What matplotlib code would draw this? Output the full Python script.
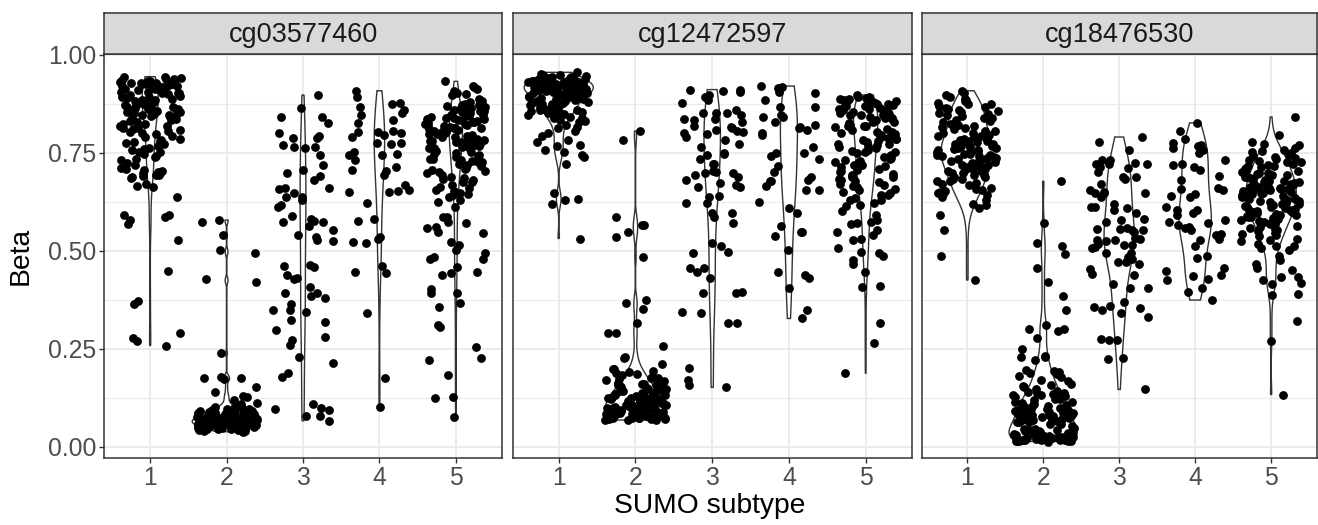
import numpy as np
import matplotlib
matplotlib.use('Agg')
import matplotlib.pyplot as plt

plt.rcParams['font.family'] = ['Liberation Sans', 'DejaVu Sans']

probes = ['cg03577460', 'cg12472597', 'cg18476530']
subtypes = [1, 2, 3, 4, 5]
y_ticks = [0.0, 0.25, 0.5, 0.75, 1.0]
y_tick_labels = ['0.00', '0.25', '0.50', '0.75', '1.00']

# ---- cg03577460, beta values per SUMO subtype ----
cg03577460_1 = [
    0.931, 0.918, 0.942, 0.905, 0.927, 0.899, 0.923, 0.936, 0.912, 0.939, 0.921, 0.903, 0.934, 0.915, 0.926,
    0.944, 0.908, 0.929, 0.913, 0.924, 0.937, 0.901, 0.917, 0.941, 0.920, 0.932, 0.910, 0.906, 0.925, 0.933,
    0.914, 0.922, 0.902, 0.928, 0.911,
    0.893, 0.874, 0.885, 0.862, 0.896, 0.853, 0.881, 0.869, 0.858, 0.891, 0.878, 0.851, 0.872, 0.887, 0.864,
    0.883, 0.867, 0.855, 0.894, 0.861, 0.879, 0.871, 0.857, 0.848, 0.889, 0.876, 0.866, 0.859, 0.884, 0.852,
    0.843, 0.824, 0.836, 0.812, 0.847, 0.803, 0.831, 0.819, 0.808, 0.841, 0.828, 0.801, 0.822, 0.845, 0.814,
    0.833, 0.817, 0.806, 0.839, 0.811,
    0.792, 0.774, 0.785, 0.763, 0.797, 0.752, 0.781, 0.768, 0.757, 0.789, 0.778, 0.751, 0.771, 0.759, 0.783,
    0.742, 0.723, 0.734, 0.712, 0.746, 0.705, 0.731, 0.718, 0.709, 0.738,
    0.697, 0.691, 0.702, 0.694, 0.688, 0.699, 0.686, 0.693,
    0.700, 0.665, 0.663, 0.669, 0.636, 0.590, 0.592, 0.578, 0.567, 0.585, 0.527, 0.448, 0.364, 0.372, 0.289,
    0.270, 0.276, 0.258]
cg03577460_2 = [
    0.578, 0.574, 0.539, 0.501, 0.493, 0.427, 0.421, 0.238, 0.172, 0.174, 0.178, 0.140, 0.127, 0.153, 0.174,
    0.052, 0.071, 0.063, 0.084, 0.041, 0.093, 0.058, 0.076, 0.047, 0.102, 0.061, 0.087, 0.069, 0.054, 0.066,
    0.091, 0.073, 0.044, 0.082, 0.059, 0.074, 0.051, 0.108, 0.064, 0.079, 0.068, 0.049, 0.096, 0.057, 0.072,
    0.038, 0.086, 0.062, 0.053, 0.099, 0.077, 0.065, 0.081, 0.046, 0.070, 0.060, 0.089, 0.055, 0.075, 0.083,
    0.043, 0.067, 0.078, 0.050, 0.118, 0.063, 0.085, 0.072, 0.048, 0.058, 0.094, 0.069, 0.040, 0.061, 0.080,
    0.056, 0.074, 0.064, 0.104, 0.052, 0.088, 0.071, 0.059, 0.045, 0.092, 0.066, 0.077, 0.049, 0.083, 0.062,
    0.070, 0.054, 0.112, 0.057, 0.086, 0.073, 0.047, 0.065, 0.097, 0.042, 0.076, 0.060, 0.081, 0.053, 0.068,
    0.128, 0.063, 0.051, 0.084, 0.072, 0.058, 0.039, 0.090, 0.075, 0.050, 0.067, 0.079, 0.055, 0.071, 0.101,
    0.061, 0.048, 0.087, 0.074, 0.044, 0.064, 0.095, 0.056, 0.069, 0.059]
cg03577460_3 = [
    0.897, 0.865, 0.841, 0.792, 0.788, 0.763, 0.765, 0.744, 0.718, 0.705, 0.690, 0.680, 0.659, 0.646, 0.657,
    0.629, 0.637, 0.612, 0.588, 0.574, 0.582, 0.535, 0.540, 0.527, 0.459, 0.438, 0.429, 0.461, 0.408, 0.384,
    0.348, 0.344, 0.228, 0.093, 0.095, 0.077,
    0.841, 0.801, 0.765, 0.826, 0.788, 0.769, 0.697, 0.659, 0.637, 0.616, 0.575, 0.573, 0.562, 0.552, 0.524,
    0.463, 0.378, 0.393, 0.391, 0.365, 0.348, 0.427, 0.323, 0.319, 0.297, 0.280, 0.259, 0.272, 0.214, 0.189,
    0.178, 0.109, 0.098, 0.077, 0.066]
cg03577460_4 = [
    0.908, 0.877, 0.867, 0.891, 0.875, 0.858, 0.833, 0.826, 0.845, 0.851, 0.803, 0.790, 0.795, 0.806, 0.803,
    0.800, 0.775, 0.775, 0.773, 0.744, 0.744, 0.752, 0.746, 0.731, 0.705, 0.704, 0.714, 0.693, 0.656, 0.650,
    0.650, 0.667, 0.653, 0.622, 0.582, 0.575, 0.535, 0.529, 0.523, 0.520, 0.446, 0.461, 0.444, 0.340, 0.174,
    0.100]
cg03577460_5 = [
    0.612, 0.548, 0.514, 0.501, 0.480, 0.438, 0.401, 0.393, 0.367, 0.306, 0.459, 0.442, 0.480, 0.391, 0.446,
    0.357, 0.310, 0.253, 0.221, 0.225, 0.183, 0.127, 0.125, 0.075, 0.523, 0.493, 0.485, 0.544, 0.586, 0.574,
    0.557, 0.585, 0.561, 0.571,
    0.921, 0.903, 0.887, 0.912, 0.896, 0.874, 0.908, 0.882, 0.866, 0.899, 0.856, 0.871, 0.845, 0.862, 0.838,
    0.879, 0.851, 0.868, 0.833, 0.859, 0.847, 0.826, 0.864, 0.841, 0.818, 0.853, 0.829, 0.872, 0.836, 0.811,
    0.843, 0.822, 0.857, 0.815, 0.834, 0.806, 0.849, 0.824, 0.801, 0.839, 0.817, 0.796, 0.831, 0.808, 0.785,
    0.827, 0.799, 0.814, 0.791, 0.821, 0.788, 0.803, 0.776, 0.812, 0.783, 0.797, 0.769, 0.805, 0.779, 0.792,
    0.772, 0.786, 0.761, 0.798, 0.774, 0.756, 0.781, 0.765, 0.752, 0.777, 0.744, 0.767, 0.738, 0.759, 0.731,
    0.763, 0.747, 0.726, 0.754, 0.735, 0.719, 0.742, 0.712, 0.733, 0.705, 0.728, 0.697, 0.716, 0.689, 0.722,
    0.684, 0.708, 0.676, 0.701, 0.668, 0.693, 0.659, 0.681, 0.652, 0.674, 0.645, 0.663, 0.638, 0.656, 0.629,
    0.648, 0.624, 0.641, 0.932, 0.917, 0.884, 0.861, 0.837, 0.813, 0.789, 0.766, 0.749, 0.727, 0.702, 0.686]

# ---- cg12472597 ----
cg12472597_1 = [
    0.952, 0.938, 0.921, 0.944, 0.907, 0.931, 0.915, 0.948, 0.926, 0.903, 0.936, 0.918, 0.941, 0.899, 0.929,
    0.912, 0.946, 0.923, 0.905, 0.934, 0.917, 0.939, 0.896, 0.927, 0.909, 0.943, 0.920, 0.901, 0.932, 0.914,
    0.937, 0.893, 0.924, 0.906, 0.949, 0.919, 0.898, 0.930, 0.911, 0.935, 0.890, 0.922, 0.904, 0.942, 0.916,
    0.895, 0.928, 0.908, 0.933, 0.887, 0.925, 0.902, 0.940, 0.913, 0.892, 0.926, 0.906, 0.931, 0.884, 0.919,
    0.897, 0.936, 0.910, 0.889, 0.923, 0.903, 0.928, 0.881, 0.915, 0.894, 0.874, 0.866, 0.879, 0.858, 0.871,
    0.853, 0.876, 0.862, 0.848, 0.869, 0.856, 0.873, 0.845, 0.864, 0.838, 0.877, 0.851, 0.867, 0.842, 0.859,
    0.834, 0.854, 0.828, 0.847, 0.821, 0.861, 0.839, 0.831, 0.882, 0.886, 0.955, 0.911, 0.899, 0.918, 0.904,
    0.722, 0.792, 0.767, 0.799, 0.816, 0.744, 0.752, 0.739, 0.769, 0.648, 0.629, 0.620, 0.633, 0.531, 0.812,
    0.805, 0.783, 0.776, 0.758]
cg12472597_2 = [
    0.805, 0.782, 0.565, 0.566, 0.586, 0.548, 0.534, 0.484, 0.374, 0.367, 0.350, 0.316, 0.289, 0.290, 0.258,
    0.228, 0.225, 0.212, 0.198,
    0.069, 0.083, 0.072, 0.091, 0.077, 0.095, 0.071, 0.086, 0.098, 0.074, 0.089, 0.080, 0.068, 0.093, 0.076,
    0.085, 0.099, 0.073, 0.088, 0.079, 0.070, 0.094, 0.082, 0.097, 0.075, 0.087, 0.071, 0.090, 0.078, 0.084,
    0.096, 0.069, 0.081, 0.092, 0.074, 0.087, 0.099, 0.076, 0.083, 0.072,
    0.104, 0.118, 0.109, 0.126, 0.101, 0.114, 0.122, 0.107, 0.129, 0.111, 0.103, 0.119, 0.125, 0.106, 0.116,
    0.102, 0.121, 0.112, 0.128, 0.108, 0.115, 0.124, 0.100, 0.117, 0.110, 0.127, 0.105, 0.120, 0.113, 0.123,
    0.134, 0.151, 0.141, 0.158, 0.137, 0.146, 0.131, 0.155, 0.143, 0.139, 0.152, 0.133, 0.148, 0.157, 0.136,
    0.144, 0.132, 0.159, 0.140, 0.149, 0.135, 0.153,
    0.166, 0.183, 0.172, 0.194, 0.168, 0.178, 0.188, 0.163, 0.176, 0.199, 0.170, 0.185, 0.161, 0.191, 0.174]
cg12472597_3 = [
    0.909, 0.908, 0.877, 0.846, 0.837, 0.850, 0.852, 0.829, 0.799, 0.782, 0.803, 0.806, 0.797, 0.809, 0.765,
    0.746, 0.748, 0.733, 0.721, 0.699, 0.697, 0.688, 0.673, 0.663, 0.667, 0.637, 0.639, 0.622, 0.595, 0.571,
    0.520, 0.497, 0.513, 0.455, 0.446, 0.395, 0.391, 0.342, 0.316, 0.157,
    0.906, 0.892, 0.897, 0.911, 0.884, 0.851, 0.858, 0.835, 0.816, 0.818, 0.833, 0.812, 0.790, 0.773, 0.744,
    0.722, 0.693, 0.701, 0.703, 0.680, 0.663, 0.622, 0.595, 0.586, 0.494, 0.429, 0.455, 0.391, 0.344, 0.316,
    0.200, 0.170, 0.151]
cg12472597_4 = [
    0.914, 0.920, 0.917, 0.906, 0.901, 0.884, 0.867, 0.866, 0.841, 0.842, 0.846, 0.829, 0.809, 0.820, 0.816,
    0.795, 0.799, 0.812, 0.765, 0.748, 0.741, 0.750, 0.733, 0.716, 0.701, 0.680, 0.656, 0.654, 0.678, 0.677,
    0.688, 0.665, 0.625, 0.608, 0.595, 0.562, 0.548, 0.547, 0.537, 0.501, 0.446, 0.438, 0.429, 0.404, 0.348,
    0.327]
cg12472597_5 = [
    0.578, 0.616, 0.629, 0.493, 0.466, 0.446, 0.476, 0.410, 0.487, 0.408, 0.316, 0.265, 0.187, 0.527, 0.506,
    0.497, 0.531, 0.548, 0.568, 0.600, 0.574, 0.591, 0.571, 0.552, 0.540, 0.614,
    0.897, 0.884, 0.891, 0.876, 0.888, 0.869, 0.893, 0.872, 0.881, 0.865, 0.886, 0.861, 0.878, 0.854, 0.874,
    0.858, 0.883, 0.849, 0.868, 0.852, 0.879, 0.845, 0.862, 0.838, 0.871, 0.842, 0.857, 0.833, 0.866, 0.847,
    0.829, 0.853, 0.821, 0.844, 0.815, 0.839, 0.826, 0.808, 0.835, 0.818, 0.801, 0.827, 0.794, 0.819, 0.788,
    0.811, 0.782, 0.804, 0.776, 0.797, 0.771, 0.791, 0.764, 0.785, 0.757, 0.779, 0.751, 0.773, 0.745, 0.767,
    0.738, 0.761, 0.732, 0.754, 0.726, 0.748, 0.719, 0.742, 0.713, 0.736, 0.707, 0.729, 0.701, 0.723, 0.694,
    0.716, 0.688, 0.709, 0.681, 0.703, 0.675, 0.696, 0.668, 0.689, 0.662, 0.683, 0.655, 0.677, 0.648, 0.670,
    0.641, 0.664, 0.635, 0.657, 0.628, 0.650, 0.622, 0.643, 0.889, 0.873, 0.859, 0.846, 0.831, 0.817, 0.802,
    0.786, 0.769, 0.752, 0.735, 0.718]

# ---- cg18476530 ----
cg18476530_1 = [
    0.908, 0.896, 0.884, 0.902, 0.877, 0.891, 0.869, 0.886, 0.873, 0.862, 0.881, 0.858, 0.874, 0.851, 0.867,
    0.845, 0.863, 0.839, 0.856, 0.848, 0.834, 0.853, 0.827, 0.844, 0.821, 0.838, 0.816, 0.832, 0.811, 0.826,
    0.805, 0.822, 0.799, 0.817, 0.793, 0.812, 0.788, 0.806, 0.783, 0.801, 0.778, 0.796, 0.772, 0.791, 0.768,
    0.786, 0.763, 0.781, 0.759, 0.776, 0.754, 0.771, 0.749, 0.767, 0.745, 0.762, 0.741, 0.758, 0.736, 0.752,
    0.731, 0.747, 0.727, 0.743, 0.722, 0.738, 0.718, 0.733, 0.713, 0.729, 0.708, 0.724, 0.703, 0.719, 0.698,
    0.714, 0.693, 0.709, 0.688, 0.704, 0.683, 0.699, 0.678, 0.694, 0.672, 0.689, 0.667, 0.684, 0.661, 0.678,
    0.655, 0.671, 0.649, 0.665, 0.642, 0.658, 0.636, 0.651, 0.629, 0.644, 0.792, 0.764, 0.757, 0.746, 0.779,
    0.737, 0.785, 0.725, 0.769, 0.753, 0.742, 0.711,
    0.552, 0.486, 0.425, 0.616, 0.620, 0.646, 0.590, 0.608]
cg18476530_2 = [
    0.677, 0.571, 0.491, 0.511, 0.457, 0.421, 0.520, 0.385, 0.348, 0.310, 0.299, 0.295, 0.301, 0.276, 0.248,
    0.228, 0.231, 0.229, 0.221, 0.196, 0.194, 0.191, 0.170, 0.178, 0.185, 0.189, 0.132, 0.140, 0.134, 0.121,
    0.106, 0.081, 0.076, 0.083, 0.064, 0.085, 0.153, 0.155, 0.123, 0.161,
    0.058, 0.072, 0.095, 0.113, 0.064, 0.087, 0.142, 0.105, 0.068, 0.126, 0.091, 0.077, 0.167, 0.099, 0.083,
    0.118, 0.062, 0.136, 0.108, 0.074, 0.181, 0.093, 0.069, 0.148, 0.115, 0.081, 0.102, 0.066, 0.129, 0.089,
    0.052, 0.078, 0.097, 0.121, 0.059, 0.084, 0.111, 0.138, 0.067, 0.093, 0.158, 0.071, 0.104, 0.086, 0.131,
    0.021, 0.034, 0.017, 0.042, 0.026, 0.015, 0.038, 0.023, 0.048, 0.019, 0.031, 0.016, 0.027, 0.044, 0.020,
    0.036, 0.014, 0.029, 0.022, 0.018, 0.039, 0.025, 0.015, 0.033, 0.046, 0.021, 0.017, 0.028, 0.041, 0.024,
    0.016, 0.035, 0.019, 0.026, 0.014, 0.031, 0.022, 0.043, 0.018, 0.027, 0.015, 0.032, 0.020, 0.024, 0.013,
    0.029, 0.017, 0.023]
cg18476530_3 = [
    0.778, 0.790, 0.731, 0.714, 0.724, 0.722, 0.688, 0.671, 0.646, 0.648, 0.637, 0.612, 0.608, 0.595, 0.578,
    0.582, 0.552, 0.554, 0.548, 0.514, 0.506, 0.527, 0.529, 0.516, 0.510, 0.484, 0.467, 0.472, 0.452, 0.440,
    0.493, 0.404, 0.353, 0.359, 0.272, 0.274, 0.225, 0.340,
    0.722, 0.720, 0.701, 0.684, 0.757, 0.731, 0.710, 0.688, 0.646, 0.650, 0.654, 0.620, 0.603, 0.612, 0.574,
    0.554, 0.557, 0.552, 0.527, 0.533, 0.514, 0.525, 0.472, 0.493, 0.480, 0.438, 0.416, 0.404, 0.370, 0.357,
    0.348, 0.331, 0.272, 0.223, 0.146]
cg18476530_4 = [
    0.826, 0.806, 0.769, 0.767, 0.775, 0.786, 0.763, 0.748, 0.757, 0.722, 0.707, 0.714, 0.731, 0.718, 0.690,
    0.681, 0.657, 0.659, 0.640, 0.654, 0.637, 0.645, 0.590, 0.605, 0.595, 0.612, 0.603, 0.578, 0.561, 0.552,
    0.574, 0.558, 0.565, 0.571, 0.540, 0.527, 0.542, 0.529, 0.511, 0.486, 0.482, 0.455, 0.425, 0.427, 0.449,
    0.438, 0.436, 0.404, 0.395, 0.374]
cg18476530_5 = [
    0.841, 0.795, 0.769, 0.321, 0.270, 0.133, 0.387, 0.389, 0.418, 0.432, 0.433, 0.451, 0.425, 0.416, 0.455,
    0.476, 0.486, 0.467, 0.527, 0.506, 0.501, 0.511, 0.513,
    0.762, 0.748, 0.771, 0.739, 0.755, 0.727, 0.744, 0.718, 0.758, 0.733, 0.711, 0.741, 0.703, 0.729, 0.696,
    0.722, 0.689, 0.736, 0.714, 0.681, 0.707, 0.676, 0.699, 0.669, 0.725, 0.692, 0.663, 0.686, 0.657, 0.701,
    0.673, 0.648, 0.679, 0.652, 0.694, 0.661, 0.642, 0.671, 0.637, 0.684, 0.655, 0.631, 0.666, 0.626, 0.649,
    0.619, 0.677, 0.641, 0.614, 0.658, 0.633, 0.608, 0.645, 0.602, 0.627, 0.596, 0.654, 0.621, 0.591, 0.639,
    0.612, 0.585, 0.629, 0.579, 0.606, 0.573, 0.624, 0.598, 0.567, 0.617, 0.589, 0.561, 0.603, 0.555, 0.582,
    0.549, 0.594, 0.571, 0.543, 0.586, 0.564, 0.537, 0.576, 0.531, 0.558, 0.524, 0.569, 0.546, 0.518, 0.552,
    0.715, 0.688, 0.662, 0.636, 0.611, 0.583, 0.752, 0.697, 0.646, 0.599, 0.674, 0.623, 0.709, 0.651, 0.592,
    0.667, 0.618, 0.731, 0.682, 0.634, 0.776, 0.716, 0.659, 0.605, 0.541]

panel_data = [
    [cg03577460_1, cg03577460_2, cg03577460_3, cg03577460_4, cg03577460_5],
    [cg12472597_1, cg12472597_2, cg12472597_3, cg12472597_4, cg12472597_5],
    [cg18476530_1, cg18476530_2, cg18476530_3, cg18476530_4, cg18476530_5],
]


def ydensity(vals):
    # gaussian kde with R's bw.nrd0, trimmed to the data range (like stat_ydensity)
    v = np.asarray(vals, dtype=float)
    n = len(v)
    q75, q25 = np.percentile(v, [75, 25])
    lo = min(v.std(ddof=1), (q75 - q25) / 1.34)
    if lo <= 0:
        lo = v.std(ddof=1)
    bw = 0.9 * lo * n ** -0.2
    grid = np.linspace(v.min(), v.max(), 512)
    dens = np.exp(-0.5 * ((grid[:, None] - v[None, :]) / bw) ** 2).sum(1) / (n * bw * np.sqrt(2 * np.pi))
    return grid, dens


def jitter(n, seed):
    # deterministic stand-in for geom_jitter (quadratic Weyl sequence), +-0.4
    i = np.arange(n)
    return ((0.5 * 0.6180339887 * i * i + 0.4142135624 * i + seed) % 1.0 - 0.5) * 0.8


W, H = 1318, 525
fig = plt.figure(figsize=(W / 100, H / 100), dpi=100)


def rect(x0, x1, y0, y1):
    return [x0 / W, 1 - y1 / H, (x1 - x0) / W, (y1 - y0) / H]


panel_x = [(104.3, 501.7), (512.7, 911.7), (921.7, 1316.7)]
strip_top, panel_top, panel_bottom = 12.7, 54.3, 458.0
edge = '#333333'

for j, (probe, groups) in enumerate(zip(probes, panel_data)):
    x0, x1 = panel_x[j]
    ax = fig.add_axes(rect(x0, x1, panel_top, panel_bottom))
    ax.set_xlim(0.4, 5.6)
    ax.set_ylim(-0.029, 1.001)
    ax.set_xticks(subtypes)
    ax.set_xticklabels([str(s) for s in subtypes])
    ax.set_yticks(y_ticks)
    ax.set_yticklabels(y_tick_labels)
    ax.set_yticks([0.125, 0.375, 0.625, 0.875], minor=True)
    ax.grid(which='major', color='#EBEBEB', lw=1.4, zorder=0)
    ax.grid(which='minor', axis='y', color='#EBEBEB', lw=0.8, zorder=0)
    ax.set_axisbelow(True)
    ax.tick_params(which='major', length=3.8, width=1.0, color=edge, labelcolor='#4D4D4D',
                   labelsize=17.8, pad=2)
    ax.tick_params(which='minor', left=False, bottom=False)
    if j > 0:
        ax.tick_params(left=False, labelleft=False)
    for sp in ax.spines.values():
        sp.set_color(edge)
        sp.set_linewidth(1.1)

    dens_list = [ydensity(g) for g in groups]
    dmax = max(d.max() for _, d in dens_list)
    for k, (pos, vals) in enumerate(zip(subtypes, groups)):
        grid, d = dens_list[k]
        hw = 0.45 * d / dmax
        ax.fill(np.concatenate([pos - hw, (pos + hw)[::-1]]),
                np.concatenate([grid, grid[::-1]]),
                facecolor='white', edgecolor=edge, lw=1.0, zorder=2)
        ax.scatter(pos + jitter(len(vals), 0.37 * k + 0.21 * j), vals,
                   s=40, c='black', linewidths=0, zorder=3)

    sax = fig.add_axes(rect(x0, x1, strip_top, panel_top))
    sax.set_facecolor('#D9D9D9')
    sax.set_xticks([])
    sax.set_yticks([])
    for sp in sax.spines.values():
        sp.set_color(edge)
        sp.set_linewidth(1.1)
    sax.text(0.5, 0.47, probe, ha='center', va='center', fontsize=19.5, color='#1A1A1A',
             transform=sax.transAxes)

fig.text(710 / W, 1 - 513 / H, 'SUMO subtype', ha='center', va='baseline', fontsize=20.3, color='black')
fig.text(21 / W, 1 - 256 / H, 'Beta', ha='center', va='center', rotation=90, fontsize=20.3, color='black')

fig.savefig('out.png', dpi=100)
